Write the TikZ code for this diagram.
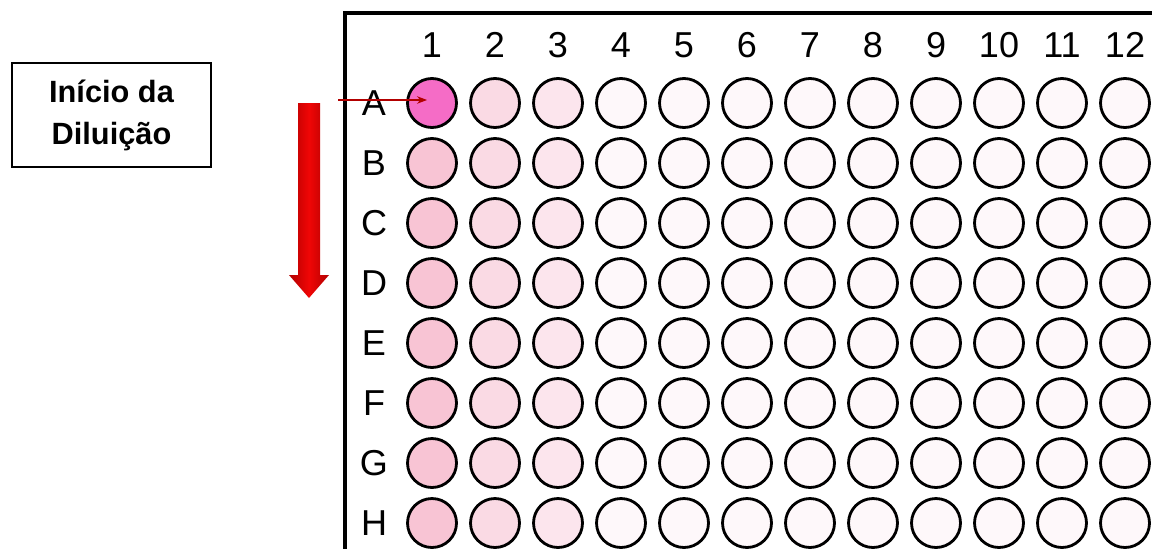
\documentclass[tikz,border=0pt]{standalone}
\usepackage{fontspec}
\setmainfont{Liberation Sans}
\usetikzlibrary{arrows.meta,positioning,calc}

\definecolor{well0}{RGB}{245,108,198}
\definecolor{well1}{RGB}{248,196,212}
\definecolor{well2}{RGB}{250,218,228}
\definecolor{well3}{RGB}{252,229,237}
\definecolor{well4}{RGB}{254,248,250}
\definecolor{dilred}{RGB}{240,6,6}

\begin{document}
\begin{tikzpicture}[
    x=0.02cm, y=-0.02cm,
    >=Stealth,
    well/.style={draw, circle, line width=1.6pt, minimum size=0.98cm,
                 inner sep=0pt},
    lbl/.style={font=\fontsize{20.5}{24}\selectfont, inner sep=0pt},
    infobox/.style={draw, line width=0.8pt, minimum width=3.98cm,
                    minimum height=2.08cm, align=center,
                    font=\bfseries\fontsize{17.5}{24}\selectfont},
    pointer/.style={->, line width=0.6pt, red!70!black,
                    shorten >=0.1cm},
  ]
  \useasboundingbox (0,0) rectangle (1152,548);
  \clip (0,0) rectangle (1152,548);

  % Label box
  \node[infobox] at (111.5,115) (inicio) {Início da\\Diluição};

  % Direction of the dilution
  \shade[left color=red!70!black, right color=red!70!black,
         middle color=dilred]
    (298,103) -- (320,103) -- (320,275) -- (329,275) -- (309,298)
    -- (289,275) -- (298,275) -- cycle;

  % Plate frame
  \draw[line width=1.8pt] (1160,13) -| (345,560);

  % Column numbers
  \foreach \c in {1,...,12}
    \node[lbl] at ({432+63*(\c-1)},45) (col\c) {\c};

  % Rows and wells
  \foreach \r [count=\i] in {A,B,C,D,E,F,G,H} {
    \node[lbl] at (374,{103+60*(\i-1)}) (row\r) {\r};
    \foreach \c in {1,...,12} {
      \pgfmathtruncatemacro\k{ifthenelse(and(\i==1,\c==1),0,min(\c,4))}
      \node[well, fill=well\k] at ({432+63*(\c-1)},{103+60*(\i-1)})
        (\r\c) {};
    }
  }

  % Start of the dilution
  \coordinate (start) at (338,100);
  \draw[pointer] (start) -- (start -| A1);

\end{tikzpicture}
\end{document}
